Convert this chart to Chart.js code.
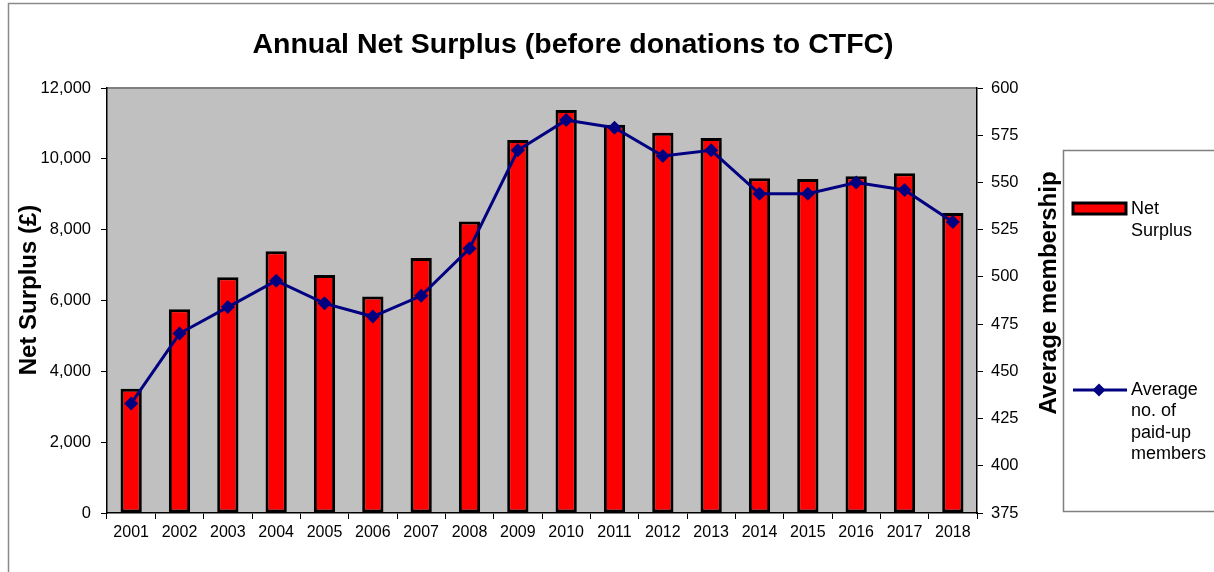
<!DOCTYPE html>
<html><head><meta charset="utf-8">
<script src="https://cdn.jsdelivr.net/npm/chart.js@4/dist/chart.umd.min.js"></script>
<style>html,body{margin:0;padding:0;background:#fff;}#wrap{position:relative;width:1214px;height:572px;}</style>
</head><body><div id="wrap"><canvas id="c" width="1214" height="572"></canvas></div>
<script>
const years = ['2001','2002','2003','2004','2005','2006','2007','2008','2009','2010','2011','2012','2013','2014','2015','2016','2017','2018'];
const netSurplus = [3510,5750,6660,7390,6720,6110,7200,8230,10535,11380,10960,10740,10590,9455,9430,9510,9595,8470];
const avgMembers = [433,470,484,498,486,479,490,515,567,583,579,564,567,544,544,550,546,529];
const leftAxis = {min:0, max:12000, step:2000};
const rightAxis = {min:375, max:600, step:25};
const titleText = 'Annual Net Surplus (before donations to CTFC)';
const leftTitle = 'Net Surplus (£)';
const rightTitle = 'Average membership';
const legendBar = ['Net', 'Surplus'];
const legendLine = ['Average', 'no. of', 'paid-up', 'members'];

const FONT = "'Liberation Sans', Arial, sans-serif";

const decor = {
  id:'decor',
  beforeDraw(chart){
    const {ctx, chartArea:a} = chart;
    ctx.save();
    ctx.fillStyle='#fff'; ctx.fillRect(0,0,chart.width,chart.height);
    ctx.fillStyle='#C0C0C0'; ctx.fillRect(a.left,a.top,a.right-a.left,a.bottom-a.top);
    ctx.strokeStyle='#808080'; ctx.lineWidth=2;
    ctx.beginPath(); ctx.moveTo(a.left,a.top); ctx.lineTo(a.right,a.top); ctx.stroke();
    ctx.strokeStyle='#8a8a8a'; ctx.lineWidth=1.5;
    ctx.beginPath(); ctx.moveTo(8.5,chart.height); ctx.lineTo(8.5,3.5); ctx.lineTo(chart.width,3.5); ctx.stroke();
    ctx.restore();
  },
  afterDraw(chart){
    const {ctx} = chart;
    const ds = chart.data.datasets;
    ctx.save();
    ctx.fillStyle='#000'; ctx.textAlign='center'; ctx.textBaseline='middle';
    ctx.font = "bold 28.5px " + FONT;
    ctx.fillText(titleText, 573, 45);
    // axis titles
    ctx.font = "bold 24px " + FONT;
    ctx.save(); ctx.translate(29, 290); ctx.rotate(-Math.PI/2); ctx.fillText(leftTitle, 0, 0); ctx.restore();
    ctx.save(); ctx.translate(1049, 293); ctx.rotate(-Math.PI/2); ctx.fillText(rightTitle, 0, 0); ctx.restore();
    // legend box
    ctx.strokeStyle='#808080'; ctx.lineWidth=1.5;
    ctx.strokeRect(1063.5,150.5,200,361);
    // bar swatch
    ctx.fillStyle = ds[0].backgroundColor; ctx.fillRect(1073,203,53,11);
    ctx.strokeStyle = ds[0].borderColor; ctx.lineWidth=3; ctx.strokeRect(1073,203,53,11);
    ctx.fillStyle='#000'; ctx.textAlign='left'; ctx.font = "18px " + FONT;
    legendBar.forEach((t,i)=>ctx.fillText(t,1131,209+i*22));
    // line swatch
    ctx.strokeStyle = ds[1].borderColor; ctx.lineWidth=3;
    ctx.beginPath(); ctx.moveTo(1073,390); ctx.lineTo(1127,390); ctx.stroke();
    ctx.fillStyle = ds[1].pointBackgroundColor;
    ctx.beginPath(); ctx.moveTo(1099,383.5); ctx.lineTo(1105.5,390); ctx.lineTo(1099,396.5); ctx.lineTo(1092.5,390); ctx.closePath(); ctx.fill();
    ctx.fillStyle='#000';
    legendLine.forEach((t,i)=>ctx.fillText(t,1131,390+i*21.5));
    ctx.restore();
  }
};

new Chart(document.getElementById('c'), {
  type:'bar',
  data:{
    labels: years,
    datasets:[
      {type:'bar', label:'Net Surplus', data: netSurplus, yAxisID:'y', backgroundColor:'#FF0000', borderColor:'#000', borderWidth:3, borderSkipped:false, barPercentage:0.44, categoryPercentage:1.0, order:1},
      {type:'line', label:'Average no. of paid-up members', data: avgMembers, yAxisID:'y1', borderColor:'#000080', backgroundColor:'#000080', pointBackgroundColor:'#000080', pointBorderColor:'#000080', borderWidth:3, pointStyle:'rectRot', pointRadius:7, pointBorderWidth:0, tension:0, order:0}
    ]
  },
  options:{
    responsive:false, animation:false,
    layout:{padding:{top:88, right:150, bottom:0, left:0}},
    plugins:{legend:{display:false}, title:{display:false}, tooltip:{enabled:false}},
    scales:{
      x:{
        grid:{display:true, drawOnChartArea:false, offset:true, color:'#000', tickLength:6, tickWidth:1},
        border:{color:'#000', width:1.5},
        ticks:{color:'#000', font:{family:FONT, size:16}, padding:4, maxRotation:0, autoSkip:false},
        afterFit(s){ s.height = 59; }
      },
      y:{
        position:'left', min:leftAxis.min, max:leftAxis.max,
        grid:{drawOnChartArea:false, color:'#000', tickLength:6},
        border:{color:'#000', width:1.5},
        ticks:{stepSize:leftAxis.step, color:'#000', font:{family:FONT, size:16.5}, padding:10, callback:v=>v.toLocaleString('en-US')},
        afterFit(s){ s.width = 107; }
      },
      y1:{
        position:'right', min:rightAxis.min, max:rightAxis.max,
        grid:{drawOnChartArea:false, color:'#000', tickLength:6},
        border:{color:'#000', width:1.5},
        ticks:{stepSize:rightAxis.step, color:'#000', font:{family:FONT, size:16.5}, padding:8},
        afterFit(s){ s.width = 87; }
      }
    }
  },
  plugins:[decor]
});
</script></body></html>
